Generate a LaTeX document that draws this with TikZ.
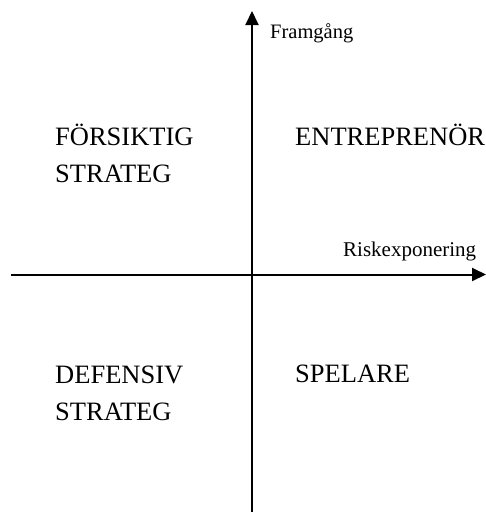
\documentclass[tikz,border=0pt]{standalone}
\usepackage{fontspec}
\setmainfont{Liberation Serif}
\usetikzlibrary{arrows.meta}
\begin{document}
\begin{tikzpicture}[x=1pt,y=-1pt,
  axis/.style={line width=2pt,-{Triangle[length=14pt,width=13pt]}},
  big/.style={anchor=base west,inner sep=0pt,font=\fontsize{26.5}{37}\selectfont,align=left},
  small/.style={anchor=base west,inner sep=0pt,font=\fontsize{20.5}{24}\selectfont}]
\useasboundingbox (0,0) rectangle (486,512);
\coordinate (vbot) at (252,512);
\coordinate (vtop) at (252,11);
\coordinate (hleft) at (11,274.5);
\coordinate (hright) at (486,274.5);
\draw[axis] (vbot) -- (vtop);
\draw[axis] (hleft) -- (hright);
\node[small] (fram) at (270,38) {Framgång};
\node[small,font=\fontsize{21}{24}\selectfont] (risk) at (343,256) {Riskexponering};
\node[big] (fors) at (55,182) {FÖRSIKTIG\\STRATEG};
\node[big] (entr) at (295,145) {ENTREPRENÖR};
\node[big] (def) at (55,420) {DEFENSIV\\STRATEG};
\node[big] (spel) at (295,382) {SPELARE};
\end{tikzpicture}
\end{document}
